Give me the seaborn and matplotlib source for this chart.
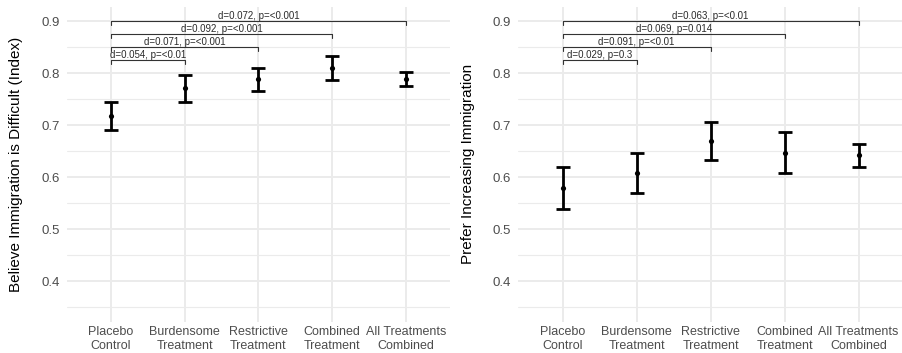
import matplotlib
matplotlib.use("Agg")
import matplotlib.pyplot as plt
import seaborn as sns
import pandas as pd
import numpy as np

sns.set_theme(style="whitegrid")
plt.rcParams['font.family'] = ['Liberation Sans', 'DejaVu Sans']

categories = ["Placebo\nControl", "Burdensome\nTreatment", "Restrictive\nTreatment",
              "Combined\nTreatment", "All Treatments\nCombined"]

# Left panel: Believe Immigration is Difficult (Index)
left_mean = [0.717, 0.771, 0.788, 0.809, 0.789]
left_low = [0.690, 0.744, 0.766, 0.787, 0.775]
left_high = [0.744, 0.796, 0.810, 0.833, 0.802]
left_labels = ["d=0.054, p=<0.01", "d=0.071, p=<0.001", "d=0.092, p=<0.001", "d=0.072, p=<0.001"]

# Right panel: Prefer Increasing Immigration
right_mean = [0.578, 0.607, 0.669, 0.647, 0.642]
right_low = [0.538, 0.569, 0.633, 0.608, 0.620]
right_high = [0.620, 0.646, 0.706, 0.687, 0.663]
right_labels = ["d=0.029, p=0.3", "d=0.091, p=<0.01", "d=0.069, p=0.014", "d=0.063, p=<0.01"]

bracket_y = [0.825, 0.85, 0.875, 0.9]
yticks = [0.4, 0.5, 0.6, 0.7, 0.8, 0.9]

fig = plt.figure(figsize=(9.03, 3.53), dpi=100)
ax1 = fig.add_axes([66.7/903, 1-321.7/353, (450-66.7)/903, (321.7-7)/353])
ax2 = fig.add_axes([518.3/903, 1-321.7/353, (903-518.3)/903, (321.7-7)/353])

def panel(ax, mean, low, high, labels, ylabel):
    df = pd.DataFrame({"cat": categories, "mean": mean, "low": low, "high": high})
    pos = np.arange(len(categories))
    ax.errorbar(pos, df["mean"], yerr=[df["mean"] - df["low"], df["high"] - df["mean"]],
                fmt="none", ecolor="black", elinewidth=2, capsize=5, capthick=2, zorder=3)
    sns.scatterplot(data=df, x="cat", y="mean", ax=ax, color="black", s=14,
                    edgecolor="black", linewidth=0, zorder=4)
    tip = 0.008
    for j, (yb, lab) in enumerate(zip(bracket_y, labels)):
        x0, x1 = 0, j + 1
        ax.plot([x0, x0, x1, x1], [yb - tip, yb, yb, yb - tip], color="#333333", lw=0.8, zorder=2)
        ax.text((x0 + x1) / 2, yb + 0.001, lab, ha="center", va="bottom", fontsize=7, color="#2a2a2a")
    ax.set_xlim(-0.6, 4.6)
    ax.set_ylim(0.3218, 0.927)
    ax.set_yticks(yticks)
    ax.set_yticklabels([f"{v:.1f}" for v in yticks])
    ax.set_yticks([0.35, 0.45, 0.55, 0.65, 0.75, 0.85], minor=True)
    ax.set_xticks(range(len(categories)))
    ax.set_xticklabels(categories)
    ax.tick_params(axis="x", labelsize=9, labelcolor="#4D4D4D", length=0, pad=3)
    ax.tick_params(axis="y", labelsize=9.5, labelcolor="#4D4D4D", length=0, pad=5)
    ax.grid(True, which="major", color="#EBEBEB", lw=1.4)
    ax.grid(True, which="minor", axis="y", color="#EBEBEB", lw=0.8)
    ax.set_facecolor("white")
    for s in ax.spines.values():
        s.set_visible(False)
    ax.set_xlabel("")
    ax.set_ylabel(ylabel, fontsize=11, color="black", labelpad=13)

panel(ax1, left_mean, left_low, left_high, left_labels, "Believe Immigration is Difficult (Index)")
panel(ax2, right_mean, right_low, right_high, right_labels, "Prefer Increasing Immigration")

fig.savefig("out.png", dpi=100, facecolor="white")
